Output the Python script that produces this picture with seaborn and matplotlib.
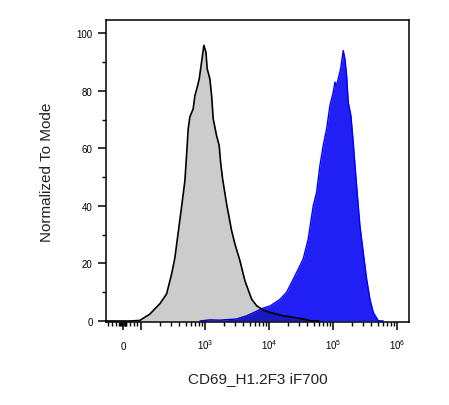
import numpy as np
import matplotlib
matplotlib.use("Agg")
import matplotlib.pyplot as plt
import seaborn as sns

# Isotype / unstained control (grey)
grey_x = [-94, 0, 39, 94, 138, 198, 252, 302, 340, 379, 432, 487, 517, 548, 583,
          656, 698, 758, 815, 888, 964, 1038, 1087, 1197, 1273, 1349, 1523, 1672,
          1759, 1890, 2183, 2614, 2943, 3522, 4217, 5370, 6427, 8149, 10380,
          13190, 16720, 23970, 34370, 46410, 60000]
grey_y = [0, 0, 0, 0.2, 2.4, 6, 9.4, 16.3, 22, 30, 39.6, 48.7, 57.5, 66.7, 71,
          73.7, 78.3, 81.2, 84.1, 90, 95.8, 93.4, 87.6, 84.1, 78.3, 70.2, 64.4,
          61, 55.2, 49.4, 40.7, 31.4, 26.8, 21, 14, 7.6, 5.3, 3.8, 3,
          2.4, 1.8, 1.3, 0.7, 0, 0]

# CD69 stained sample (blue)
blue_x = [836, 1197, 1716, 3126, 4484, 6427, 8149, 10380, 14860, 18920, 22650,
          28710, 34370, 41120, 49200, 55590, 62620, 70530, 79750, 89830, 101200,
          107500, 114200, 121000, 131900, 144900, 154000, 163700, 173400, 191000,
          207500, 234400, 264100, 297400, 336200, 378500, 426600, 510600, 611000]
blue_y = [0, 0.4, 0.3, 0.7, 1.8, 3.4, 4.5, 5.2, 7.5, 10, 13.4,
          18, 21.6, 28.5, 40, 44.7, 54, 61, 66.8, 74.9, 79.5,
          83, 81.8, 84.2, 87.6, 94, 91.1, 85.3, 76, 71.4,
          62.1, 47, 33.1, 23.9, 14.6, 7.6, 3, 0.1, 0]

x_ticks = [0, 1e2, 1e3, 1e4, 1e5, 1e6]
x_tick_labels = ["0", "", r"$\mathregular{10^3}$", r"$\mathregular{10^4}$",
                 r"$\mathregular{10^5}$", r"$\mathregular{10^6}$"]
y_ticks = [0, 20, 40, 60, 80, 100]

sns.set_style("ticks")
plt.rcParams["font.family"] = ["Liberation Sans", "DejaVu Sans"]

fig = plt.figure(figsize=(4.49, 4.06), dpi=100)
ax = fig.add_axes([0.236, 0.2044, 0.6748, 0.7439])
ax.set_xscale("symlog", linthresh=100, linscale=0.253)

# blue histogram first, grey control drawn over it as a translucent dark layer
ax.fill_between(blue_x, blue_y, 0, color="#2020f5", linewidth=0, zorder=1)
sns.lineplot(x=blue_x, y=blue_y, color="#0000ff", linewidth=1.0, ax=ax, zorder=2)
ax.fill_between(grey_x, grey_y, 0, color="black", alpha=0.2, linewidth=0, zorder=3)
sns.lineplot(x=grey_x, y=grey_y, color="black", linewidth=1.2, ax=ax, zorder=4)

ax.set_xlim(-94, 1.54e6)
ax.set_ylim(-0.35, 104.6)

# ticks
ax.set_xticks(x_ticks)
ax.set_xticklabels(x_tick_labels)
minor = [-80, -60, -40, -20, -15, -10, -5, 5, 10, 15, 20, 40, 60, 80]
for k in range(2, 6):
    minor += [m * 10 ** k for m in range(2, 10)]
ax.set_xticks(minor, minor=True)
ax.set_yticks(y_ticks)
ax.set_yticks([10, 30, 50, 70, 90], minor=True)

ax.tick_params(axis="both", which="major", direction="out", length=6, width=1.1,
               labelsize=7, color="black", labelcolor="black")
ax.tick_params(axis="both", which="minor", direction="out", length=3, width=1.0,
               color="black")
ax.tick_params(axis="y", which="major", pad=3.5)
ax.tick_params(axis="x", which="major", pad=13.5)
for lab in ax.get_xticklabels():
    lab.set_va("baseline")

for s in ax.spines.values():
    s.set_visible(True)
    s.set_color("black")
    s.set_linewidth(1.1)

ax.set_xlabel("CD69_H1.2F3 iF700", fontsize=11, labelpad=14, color="#222222")
ax.set_ylabel("Normalized To Mode", fontsize=11, labelpad=16, color="#222222")

fig.savefig("out.png", dpi=100)
